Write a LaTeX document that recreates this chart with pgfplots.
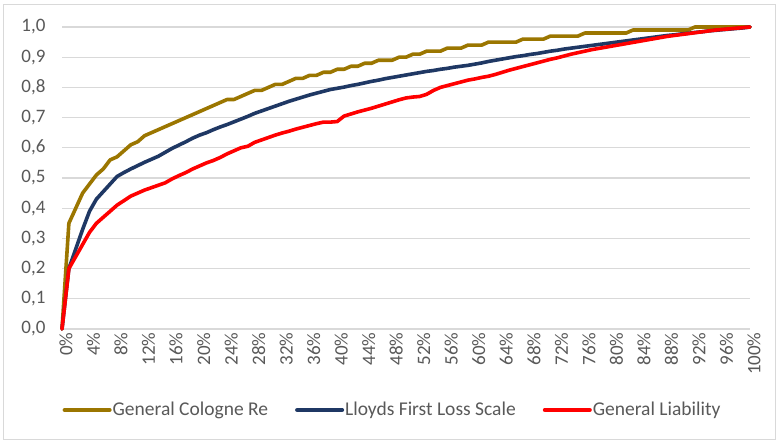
\documentclass[border=0pt]{standalone}
\usepackage{fontspec}
\setmainfont{Carlito}
\usepackage{pgfplots}
\usepackage{pgfplotstable}
\pgfplotsset{compat=1.18}

\definecolor{cgold}{RGB}{155,118,0}
\definecolor{cblue}{RGB}{31,56,100}
\definecolor{cred}{RGB}{255,0,0}
\definecolor{cgrid}{RGB}{217,217,217}
\definecolor{ctext}{RGB}{89,89,89}

% p = share, g = General Cologne Re, b = Lloyds First Loss Scale, r = General Liability
\pgfplotstableread{
p g b r
0 0 0 0
1 0.35 0.20 0.20
2 0.40 0.265 0.24
3 0.45 0.33 0.28
4 0.48 0.39 0.32
5 0.51 0.43 0.35
6 0.53 0.455 0.37
7 0.56 0.48 0.39
8 0.57 0.505 0.41
9 0.59 0.518 0.425
10 0.61 0.53 0.44
11 0.62 0.541 0.45
12 0.64 0.552 0.46
13 0.65 0.562 0.468
14 0.66 0.572 0.476
15 0.67 0.585 0.484
16 0.68 0.598 0.497
17 0.69 0.609 0.508
18 0.70 0.62 0.518
19 0.71 0.632 0.53
20 0.72 0.642 0.54
21 0.73 0.65 0.55
22 0.74 0.66 0.558
23 0.75 0.669 0.568
24 0.76 0.677 0.58
25 0.76 0.686 0.59
26 0.77 0.695 0.60
27 0.78 0.704 0.605
28 0.79 0.714 0.618
29 0.79 0.722 0.626
30 0.80 0.73 0.634
31 0.81 0.738 0.642
32 0.81 0.746 0.649
33 0.82 0.754 0.655
34 0.83 0.761 0.662
35 0.83 0.768 0.668
36 0.84 0.775 0.674
37 0.84 0.781 0.68
38 0.85 0.787 0.685
39 0.85 0.793 0.685
40 0.86 0.797 0.687
41 0.86 0.801 0.705
42 0.87 0.806 0.712
43 0.87 0.81 0.719
44 0.88 0.815 0.725
45 0.88 0.82 0.731
46 0.89 0.824 0.738
47 0.89 0.829 0.745
48 0.89 0.833 0.752
49 0.90 0.837 0.759
50 0.90 0.841 0.765
51 0.91 0.845 0.768
52 0.91 0.849 0.77
53 0.92 0.853 0.777
54 0.92 0.856 0.79
55 0.92 0.86 0.80
56 0.93 0.863 0.806
57 0.93 0.867 0.812
58 0.93 0.87 0.818
59 0.94 0.873 0.824
60 0.94 0.877 0.828
61 0.94 0.881 0.833
62 0.95 0.886 0.837
63 0.95 0.89 0.843
64 0.95 0.894 0.85
65 0.95 0.898 0.857
66 0.95 0.902 0.863
67 0.96 0.905 0.869
68 0.96 0.909 0.875
69 0.96 0.912 0.881
70 0.96 0.916 0.887
71 0.97 0.92 0.893
72 0.97 0.923 0.898
73 0.97 0.927 0.904
74 0.97 0.93 0.91
75 0.97 0.933 0.915
76 0.98 0.936 0.92
77 0.98 0.939 0.925
78 0.98 0.942 0.929
79 0.98 0.945 0.933
80 0.98 0.948 0.937
81 0.98 0.951 0.941
82 0.98 0.954 0.945
83 0.99 0.957 0.949
84 0.99 0.96 0.953
85 0.99 0.963 0.957
86 0.99 0.966 0.961
87 0.99 0.969 0.965
88 0.99 0.972 0.969
89 0.99 0.974 0.972
90 0.99 0.977 0.975
91 0.99 0.979 0.978
92 1.00 0.982 0.981
93 1.00 0.984 0.984
94 1.00 0.987 0.987
95 1.00 0.989 0.99
96 1.00 0.991 0.992
97 1.00 0.993 0.994
98 1.00 0.995 0.996
99 1.00 0.997 0.998
100 1.00 1.00 1.00
}\curves

\begin{document}
\begin{tikzpicture}
  \path[use as bounding box, fill=white] (0bp,0bp) rectangle (780bp,445bp);
  \draw[cgrid, line width=1bp] (3bp,5bp) rectangle (775bp,440bp);
  \begin{axis}[
      at={(62bp,116bp)}, anchor=south west,
      scale only axis,
      width=688bp, height=302bp,
      xmin=0, xmax=100, ymin=0, ymax=1,
      clip=false,
      axis line style={draw=none},
      major tick length=0pt,
      ymajorgrids,
      grid style={cgrid, line width=1.2bp},
      xtick={0,4,...,100},
      ytick={0,0.1,0.2,0.3,0.4,0.5,0.6,0.7,0.8,0.9,1},
      /pgf/number format/assume math mode=true,
      xticklabel={\pgfmathprintnumber[fixed,precision=0]{\tick}\%},
      yticklabel={\pgfmathprintnumber[fixed,fixed zerofill,precision=1,use comma]{\tick}},
      tick label style={font=\fontsize{19bp}{21bp}\selectfont, text=ctext},
      yticklabel style={anchor=east, xshift=-13bp},
      xticklabel style={rotate=90, anchor=east, yshift=-4bp},
      legend columns=3,
      legend style={
        at={(0.4797,-0.268)}, anchor=center, draw=none, fill=none,
        font=\fontsize{19.5bp}{21bp}\selectfont, text=ctext,
        /tikz/every even column/.append style={column sep=26bp},
        nodes={inner sep=1bp}
      },
      legend image code/.code={\draw[#1, line width=4bp] (0bp,0bp) -- (45bp,0bp);},
      every axis plot/.append style={line width=3.6bp, line join=round, line cap=round},
    ]
    \addplot[cgold] table[x=p, y=g] {\curves};
    \addlegendentry{General Cologne Re}
    \addplot[cblue] table[x=p, y=b] {\curves};
    \addlegendentry{Lloyds First Loss Scale}
    \addplot[cred] table[x=p, y=r] {\curves};
    \addlegendentry{General Liability}
  \end{axis}
\end{tikzpicture}
\end{document}
